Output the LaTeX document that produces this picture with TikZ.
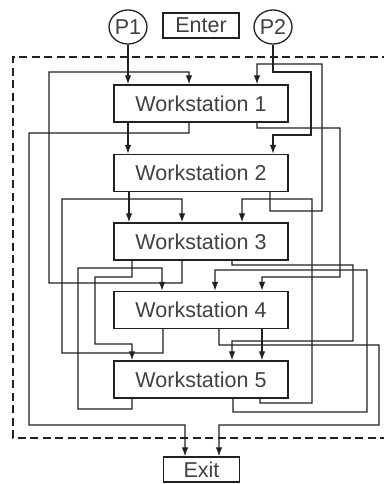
\documentclass[tikz,border=0pt]{standalone}
\usepackage{fontspec}
\setmainfont{Liberation Sans}
\usetikzlibrary{arrows.meta,shapes.geometric}
\definecolor{linec}{gray}{0.13}
\definecolor{textc}{gray}{0.25}
\begin{document}
\begin{tikzpicture}[x=1bp,y=-1bp,
  lbl/.style={text=textc, font=\fontsize{21.5bp}{24bp}\selectfont, inner sep=0pt},
  ws/.style={lbl, draw=linec, line width=1.3bp, minimum width=174bp, minimum height=37bp},
  small/.style={lbl, draw=linec, line width=1.3bp, minimum width=76bp, minimum height=25bp},
  proc/.style={lbl, ellipse, draw=linec, line width=1.3bp, minimum width=38bp, minimum height=34bp},
  conn/.style={draw=linec, line width=1.2bp, -{Latex[length=9bp,width=6.5bp]}},
  frame/.style={draw=linec, line width=2.8bp, dash pattern=on 8bp off 4.5bp}
]
\useasboundingbox (0,0) rectangle (383,484);
% nodes
\node[proc]  (p1)    at (128,27)    {P1};
\node[small] (enter) at (201,25.5)  {Enter};
\node[proc]  (p2)    at (273,27)    {P2};
\node[ws] (ws1) at (201,103.5) {Workstation 1};
\node[ws] (ws2) at (201,173)   {Workstation 2};
\node[ws] (ws3) at (201,241.5) {Workstation 3};
\node[ws] (ws4) at (201,310)   {Workstation 4};
\node[ws] (ws5) at (201,379.5) {Workstation 5};
\node[small] (exit) at (201.5,469.5) {Exit};
% frame
\draw[frame] (390,57) -- (13,57) -- (13,438) -- (390,438);
% connectors
% P1 -> WS1
\draw[conn] (p1.south) -- (p1.south |- ws1.north);
% P2 -> WS2
\draw[conn] (p2.south) |- (311,72) |- (273,135) -- (p2.south |- ws2.north);
% WS1 -> WS2
\draw[conn] ([xshift=-73bp]ws1.south) -- ([xshift=-73bp]ws2.north);
% WS1 -> Exit
\draw[conn] ([xshift=-12bp]ws1.south) |- (29,133) |- (185,425) -- ([xshift=-16.5bp]exit.north);
% WS1 -> WS4
\draw[conn] ([xshift=56bp]ws1.south) |- (340,128) |- (262,277) -- ([xshift=61bp]ws4.north);
% WS2 -> WS1
\draw[conn] ([xshift=69bp]ws2.south) |- (322,211) |- (257,64) -- ([xshift=56bp]ws1.north);
% WS2 -> WS3
\draw[conn] ([xshift=-72bp]ws2.south) -- ([xshift=-72bp]ws3.north);
% WS3 -> WS1
\draw[conn] ([xshift=-19bp]ws3.south) |- (49,283) |- (189,72) -- ([xshift=-12bp]ws1.north);
% WS3 -> WS5 (left)
\draw[conn] ([xshift=-69bp]ws3.south) |- (95,277) |- (132,344) -- ([xshift=-69bp]ws5.north);
% WS3 -> WS5 (right)
\draw[conn] ([xshift=31bp]ws3.south) |- (353,265) |- (232,341) -- ([xshift=31bp]ws5.north);
% WS4 -> WS3
\draw[conn] ([xshift=-38bp]ws4.south) |- (62,353) |- (182,199) -- ([xshift=-19bp]ws3.north);
% WS4 -> WS5
\draw[conn] ([xshift=61bp]ws4.south) -- ([xshift=61bp]ws5.north);
% WS4 -> Exit
\draw[conn] ([xshift=18bp]ws4.south) |- (379,345) |- (219,425) -- ([xshift=17.5bp]exit.north);
% WS5 -> WS3
\draw[conn] ([xshift=59bp]ws5.south) |- (312,403) |- (242,199) -- ([xshift=41bp]ws3.north);
% WS5 -> WS4 (left)
\draw[conn] ([xshift=-69bp]ws5.south) |- (78,409) |- (162,268) -- ([xshift=-39bp]ws4.north);
% WS5 -> WS4 (right)
\draw[conn] ([xshift=32bp]ws5.south) |- (367,412) |- (215,270) -- ([xshift=14bp]ws4.north);
\end{tikzpicture}
\end{document}
